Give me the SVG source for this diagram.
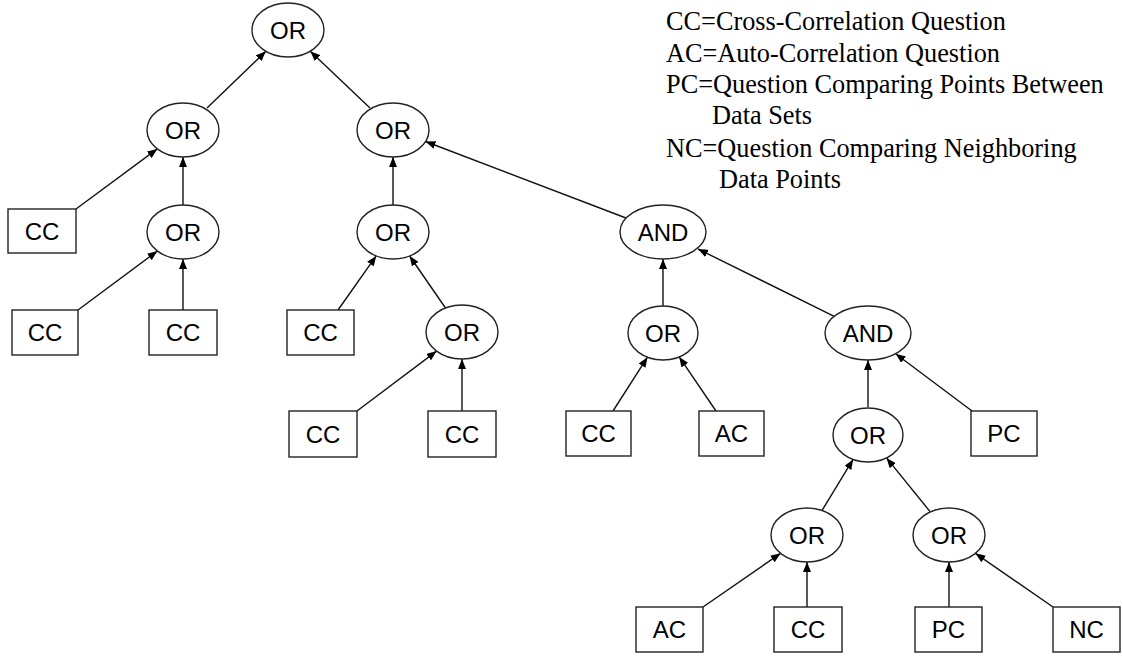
<svg xmlns="http://www.w3.org/2000/svg" width="1123" height="657" viewBox="0 0 1123 657">
<style>
.n ellipse, .n rect { fill: #fff; stroke: #222; stroke-width: 1.4; }
.n text { font-family: "Liberation Sans", Arial, sans-serif; font-size: 24px; fill: #000; text-anchor: middle; }
#edges line { stroke: #111; stroke-width: 1.4; marker-end: url(#ah); }
.legend { font-family: "Liberation Serif", "Times New Roman", serif; font-size: 26.3px; fill: #000; }
</style>
<defs>
<marker id="ah" markerUnits="userSpaceOnUse" markerWidth="10" markerHeight="8" refX="10" refY="4" orient="auto">
<path d="M0,0 L10,4 L0,8 z" fill="#000"/>
</marker>
</defs>
<rect width="1123" height="657" fill="#fff"/>
<g id="edges">
<line x1="207" y1="108" x2="265.9" y2="51.3"/>
<line x1="370" y1="108" x2="310.3" y2="51.2"/>
<line x1="76" y1="209" x2="157.3" y2="148.9"/>
<line x1="183" y1="205" x2="183" y2="157"/>
<line x1="78" y1="310" x2="157.4" y2="251"/>
<line x1="183" y1="310" x2="183" y2="259"/>
<line x1="393" y1="205" x2="393" y2="157"/>
<line x1="626" y1="218" x2="425.5" y2="141.5"/>
<line x1="338" y1="310" x2="376.2" y2="255.9"/>
<line x1="445.5" y1="308" x2="409.6" y2="256"/>
<line x1="357" y1="411" x2="436.6" y2="351.1"/>
<line x1="462" y1="411" x2="462" y2="359"/>
<line x1="663" y1="306" x2="663" y2="259"/>
<line x1="834.2" y1="316.3" x2="698" y2="249"/>
<line x1="613" y1="411" x2="647.5" y2="357.2"/>
<line x1="716" y1="411" x2="679.2" y2="356.9"/>
<line x1="868" y1="407" x2="868" y2="360"/>
<line x1="972" y1="411" x2="895.6" y2="353.7"/>
<line x1="822" y1="510.5" x2="853.1" y2="459.4"/>
<line x1="930.3" y1="511.9" x2="886.5" y2="457.9"/>
<line x1="703" y1="607" x2="780.6" y2="553.3"/>
<line x1="807" y1="607" x2="807" y2="562"/>
<line x1="949" y1="607" x2="949" y2="562"/>
<line x1="1053" y1="607" x2="975.4" y2="553.3"/>
</g>
<g id="root" class="n"><ellipse cx="288" cy="30" rx="36" ry="27"/><text x="288" y="38.5">OR</text></g>
<g id="or1L" class="n"><ellipse cx="183" cy="130" rx="36" ry="27"/><text x="183" y="138.5">OR</text></g>
<g id="or1R" class="n"><ellipse cx="393" cy="130" rx="36" ry="27"/><text x="393" y="138.5">OR</text></g>
<g id="cc2a" class="n"><rect x="8" y="209" width="68" height="44"/><text x="42" y="239.5">CC</text></g>
<g id="or2a" class="n"><ellipse cx="183" cy="232" rx="36" ry="27"/><text x="183" y="240.5">OR</text></g>
<g id="or2b" class="n"><ellipse cx="393" cy="232" rx="36" ry="27"/><text x="393" y="240.5">OR</text></g>
<g id="and2" class="n"><ellipse cx="663" cy="232" rx="43" ry="27"/><text x="663" y="240.5">AND</text></g>
<g id="cc3a" class="n"><rect x="12" y="310" width="66" height="45"/><text x="45" y="341">CC</text></g>
<g id="cc3b" class="n"><rect x="149" y="310" width="68" height="45"/><text x="183" y="341">CC</text></g>
<g id="cc3c" class="n"><rect x="287" y="310" width="67" height="45"/><text x="320.5" y="341">CC</text></g>
<g id="or3a" class="n"><ellipse cx="462" cy="332" rx="36" ry="27"/><text x="462" y="340.5">OR</text></g>
<g id="or3b" class="n"><ellipse cx="663" cy="333" rx="35" ry="27"/><text x="663" y="341.5">OR</text></g>
<g id="and3" class="n"><ellipse cx="868" cy="333" rx="43" ry="27"/><text x="868" y="341.5">AND</text></g>
<g id="cc4a" class="n"><rect x="289" y="411" width="68" height="46"/><text x="323" y="442.5">CC</text></g>
<g id="cc4b" class="n"><rect x="428" y="411" width="68" height="46"/><text x="462" y="442.5">CC</text></g>
<g id="cc4c" class="n"><rect x="566" y="411" width="65" height="45"/><text x="598.5" y="442">CC</text></g>
<g id="ac4" class="n"><rect x="699" y="411" width="65" height="45"/><text x="731.5" y="442">AC</text></g>
<g id="or4" class="n"><ellipse cx="868" cy="435" rx="35" ry="27"/><text x="868" y="443.5">OR</text></g>
<g id="pc4" class="n"><rect x="971" y="411" width="66" height="45"/><text x="1004" y="442">PC</text></g>
<g id="or5a" class="n"><ellipse cx="807" cy="535" rx="36" ry="27"/><text x="807" y="543.5">OR</text></g>
<g id="or5b" class="n"><ellipse cx="949" cy="535" rx="36" ry="27"/><text x="949" y="543.5">OR</text></g>
<g id="ac6" class="n"><rect x="636" y="607" width="67" height="45"/><text x="669.5" y="638">AC</text></g>
<g id="cc6" class="n"><rect x="774" y="607" width="68" height="45"/><text x="808" y="638">CC</text></g>
<g id="pc6" class="n"><rect x="915" y="607" width="67" height="45"/><text x="948.5" y="638">PC</text></g>
<g id="nc6" class="n"><rect x="1053" y="607" width="67" height="45"/><text x="1086.5" y="638">NC</text></g>
<g id="legend" class="legend">
<text x="666" y="30">CC=Cross-Correlation Question</text>
<text x="666" y="62">AC=Auto-Correlation Question</text>
<text x="666" y="93">PC=Question Comparing Points Between</text>
<text x="712" y="124">Data Sets</text>
<text x="666" y="157">NC=Question Comparing Neighboring</text>
<text x="719" y="188">Data Points</text>
</g>
</svg>
